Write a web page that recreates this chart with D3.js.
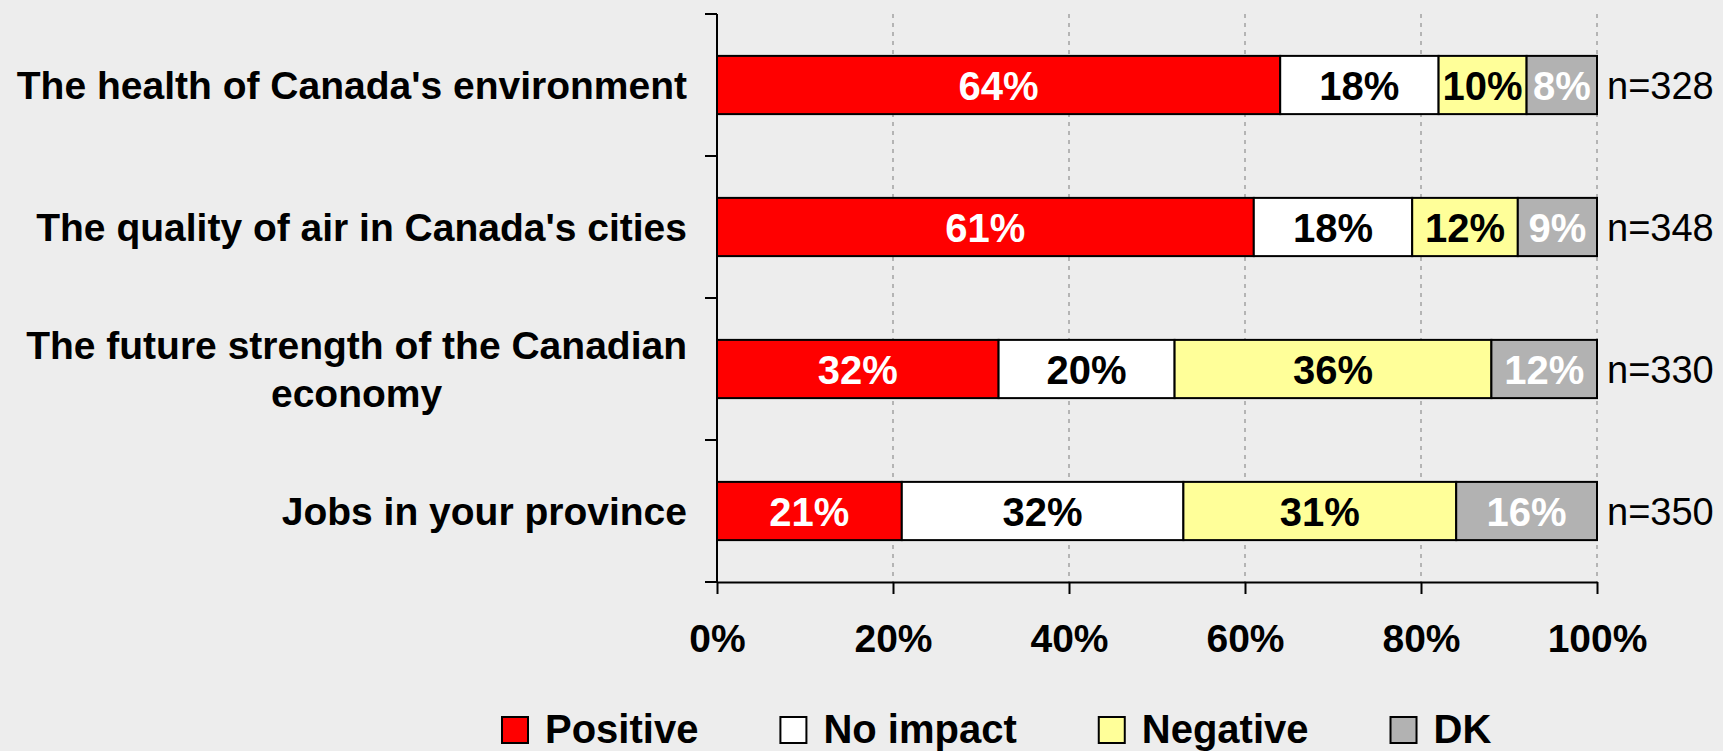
<!DOCTYPE html>
<html>
<head>
<meta charset="utf-8">
<script src="https://cdn.jsdelivr.net/npm/d3@7"></script>
<style>
  html, body { margin: 0; padding: 0; background: #ededed; }
  svg { display: block; font-family: "Liberation Sans", Arial, sans-serif; }
</style>
</head>
<body>
<svg class="chart" width="1723" height="751"></svg>
<script>
const width = 1723;
const height = 751;

// data
const categories = [
  ["The health of Canada's environment"],
  ["The quality of air in Canada's cities"],
  ["The future strength of the Canadian", "economy"],
  ["Jobs in your province"]
];
const seriesNames = ["Positive", "No impact", "Negative", "DK"];
const positive = [64, 61, 32, 21];
const noImpact = [18, 18, 20, 32];
const negative = [10, 12, 36, 31];
const dk = [8, 9, 12, 16];
const sampleSizes = ["n=328", "n=348", "n=330", "n=350"];
const xTicks = [0, 20, 40, 60, 80, 100];

const fills = ["#ff0000", "#ffffff", "#ffff99", "#b2b2b2"];
const labelColors = ["#ffffff", "#000000", "#000000", "#ffffff"];

const svg = d3.select(".chart");

const plotLeft = 717, plotRight = 1597, plotTop = 14, plotBottom = 582;

const rows = categories.map((c, i) => ({
  key: i,
  lines: c,
  Positive: positive[i],
  "No impact": noImpact[i],
  Negative: negative[i],
  DK: dk[i]
}));

const x = d3.scaleLinear().domain([0, 100]).range([plotLeft, plotRight]);
const y = d3.scaleBand()
  .domain(rows.map(d => d.key))
  .range([plotTop, plotBottom])
  .paddingInner(0.59)
  .paddingOuter(0.295);

// grid lines
svg.append("g")
  .selectAll("line")
  .data(xTicks.slice(1))
  .join("line")
  .attr("x1", d => x(d)).attr("x2", d => x(d))
  .attr("y1", plotTop).attr("y2", plotBottom)
  .attr("stroke", "#b4b4b4")
  .attr("stroke-width", 2)
  .attr("stroke-dasharray", "4,5");

// stacked bars
const stacked = d3.stack().keys(seriesNames)(rows);

const layers = svg.append("g")
  .selectAll("g")
  .data(stacked)
  .join("g");

layers.selectAll("rect")
  .data((s, si) => s.map(p => ({ p, si })))
  .join("rect")
  .attr("x", d => x(d.p[0]))
  .attr("width", d => x(d.p[1]) - x(d.p[0]))
  .attr("y", d => y(d.p.data.key))
  .attr("height", y.bandwidth())
  .attr("fill", d => fills[d.si])
  .attr("stroke", "#000")
  .attr("stroke-width", 2);

layers.selectAll("text")
  .data((s, si) => s.map(p => ({ p, si })))
  .join("text")
  .attr("x", d => (x(d.p[0]) + x(d.p[1])) / 2)
  .attr("y", d => y(d.p.data.key) + y.bandwidth() / 2)
  .attr("dy", "0.37em")
  .attr("text-anchor", "middle")
  .attr("font-size", 40)
  .attr("font-weight", "bold")
  .attr("fill", d => labelColors[d.si])
  .text(d => (d.p[1] - d.p[0]) + "%");

// n= labels
svg.append("g")
  .selectAll("text")
  .data(rows)
  .join("text")
  .attr("x", plotRight + 10)
  .attr("y", d => y(d.key) + y.bandwidth() / 2)
  .attr("dy", "0.36em")
  .attr("font-size", 38)
  .attr("fill", "#000")
  .text((d, i) => sampleSizes[i]);

// y axis line + ticks at band edges
svg.append("line")
  .attr("x1", plotLeft).attr("x2", plotLeft)
  .attr("y1", plotTop).attr("y2", plotBottom)
  .attr("stroke", "#000").attr("stroke-width", 2);

svg.append("g")
  .selectAll("line")
  .data(d3.range(rows.length + 1))
  .join("line")
  .attr("x1", plotLeft - 12).attr("x2", plotLeft)
  .attr("y1", i => plotTop + i * y.step())
  .attr("y2", i => plotTop + i * y.step())
  .attr("stroke", "#000").attr("stroke-width", 2);

// x axis
const xAxis = d3.axisBottom(x)
  .tickValues(xTicks)
  .tickSize(12)
  .tickSizeOuter(0)
  .tickPadding(30)
  .tickFormat(d => d + "%");

const gx = svg.append("g")
  .attr("transform", `translate(0, ${plotBottom})`)
  .call(xAxis);
gx.select(".domain").attr("stroke", "#000").attr("stroke-width", 2);
gx.selectAll(".tick line").attr("stroke", "#000").attr("stroke-width", 2);
gx.selectAll(".tick text")
  .attr("font-size", 39)
  .attr("font-weight", "bold")
  .attr("font-family", "'Liberation Sans', Arial, sans-serif")
  .attr("fill", "#000");

// category labels (right aligned block, lines centred)
const labelRight = 687;
const lineHeight = 48;
const catGroups = svg.append("g")
  .selectAll("g")
  .data(rows)
  .join("g");

catGroups.each(function(d) {
  const g = d3.select(this);
  const cy = y(d.key) + y.bandwidth() / 2;
  const texts = d.lines.map((line, i) => g.append("text")
    .attr("font-size", 39)
    .attr("font-weight", "bold")
    .attr("fill", "#000")
    .attr("text-anchor", "middle")
    .attr("y", cy + (i - (d.lines.length - 1) / 2) * lineHeight)
    .attr("dy", "0.36em")
    .text(line));
  const maxW = d3.max(texts, t => t.node().getComputedTextLength());
  texts.forEach(t => t.attr("x", labelRight - maxW / 2));
});

// legend
const legend = svg.append("g").attr("transform", "translate(502, 0)");
let lx = 0;
seriesNames.forEach((name, i) => {
  const item = legend.append("g").attr("transform", `translate(${lx}, 0)`);
  item.append("rect")
    .attr("x", 0).attr("y", 717)
    .attr("width", 26).attr("height", 26)
    .attr("fill", fills[i])
    .attr("stroke", "#000").attr("stroke-width", 2);
  const t = item.append("text")
    .attr("x", 43).attr("y", 743)
    .attr("font-size", 40)
    .attr("font-weight", "bold")
    .attr("fill", "#000")
    .text(name);
  lx += 43 + t.node().getComputedTextLength() + 82;
});
</script>
</body>
</html>
